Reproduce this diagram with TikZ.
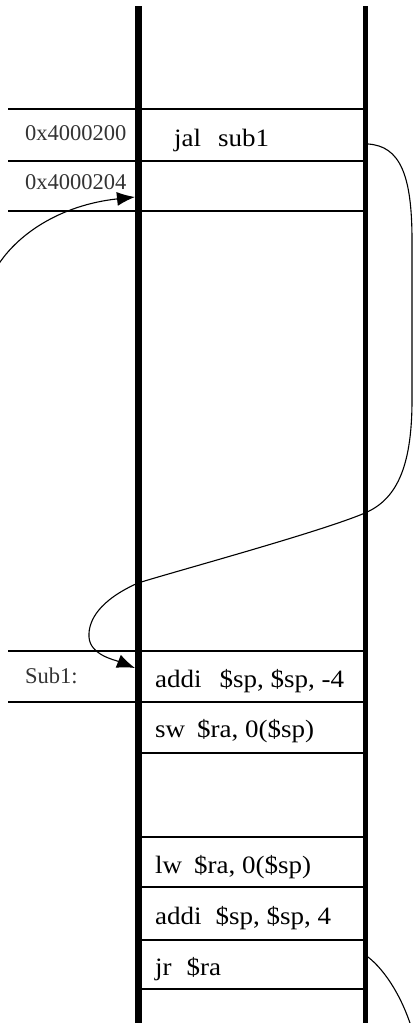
\documentclass[tikz,border=0pt]{standalone}
\usepackage{fontspec}
\setmainfont{Liberation Serif}
\newfontfamily\instrfont[FakeStretch=1.08]{Liberation Serif}
\usetikzlibrary{arrows.meta}

\begin{document}
\begin{tikzpicture}[x=1pt, y=-1pt,
  addr/.style={anchor=base west, inner sep=0pt, text=black!80, font=\fontsize{22.5}{26}\selectfont},
  instr/.style={anchor=base west, inner sep=0pt, font=\instrfont\fontsize{25}{29}\selectfont},
  rail/.style={line width=7pt},
  row/.style={line width=1.5pt},
  flow/.style={line width=1.1pt, -{Latex[length=18pt,width=14pt]}}
]
\useasboundingbox (0,0) rectangle (413,1023);
\clip (0,0) rectangle (413,1023);
% row lines
\foreach \y in {109,161,211,651,702}
  \draw[row] (8,\y) -- (365,\y);
\foreach \y in {753,837,887,940,989}
  \draw[row] (138,\y) -- (365,\y);
% the two rails
\draw[rail] (138.5,6) -- (138.5,1040);
\draw[rail, line width=5pt] (365.5,6) -- (365.5,1040);

% addresses and labels
\node[addr] (a200) at (25,140) {0x4000200};
\node[addr] (a204) at (25,189) {0x4000204};
\node[addr] (sub1) at (25,683) {Sub1:};
% instructions
\node[instr] (jal) at (174,146) {jal\hspace{17pt}sub1};
\node[instr] (push) at (155,687) {addi\hspace{18pt}\$sp, \$sp, -4};
\node[instr] (sw) at (155,737) {sw\hspace{12pt}\$ra, 0(\$sp)};
\node[instr] (lw) at (155,873) {lw\hspace{12pt}\$ra, 0(\$sp)};
\node[instr] (pop) at (155,924) {addi\hspace{14pt}\$sp, \$sp, 4};
\node[instr] (jr) at (155,975) {jr\hspace{15pt}\$ra};

% ends of the jumps on the rails
\coordinate (callsrc) at (368,144);
\coordinate (sub1in) at (135,668);
\coordinate (jrsrc) at (368,957);
\coordinate (retin) at (135,197);

% call: jal -> Sub1
\draw[flow] (callsrc) .. controls (400,146) and (412,175) .. (412,240)
  -- (412,400) .. controls (412,470) and (395,500) .. (365,513)
  .. controls (320,532) and (180,570) .. (138,583)
  .. controls (100,600) and (88,620) .. (89,637)
  .. controls (90,655) and (115,660) .. (sub1in);
% return: jr $ra -> 0x4000204 (runs round outside the page)
\draw[flow] (jrsrc) .. controls (385,970) and (405,1000) .. (415,1040)
  .. controls (425,1080) and (400,1090) .. (360,1090)
  -- (-20,1090) .. controls (-40,1090) and (-40,1060) .. (-40,1000)
  -- (-40,330) .. controls (-40,300) and (-20,290) .. (-5,270)
  .. controls (15,235) and (60,205) .. (retin);
\end{tikzpicture}
\end{document}
